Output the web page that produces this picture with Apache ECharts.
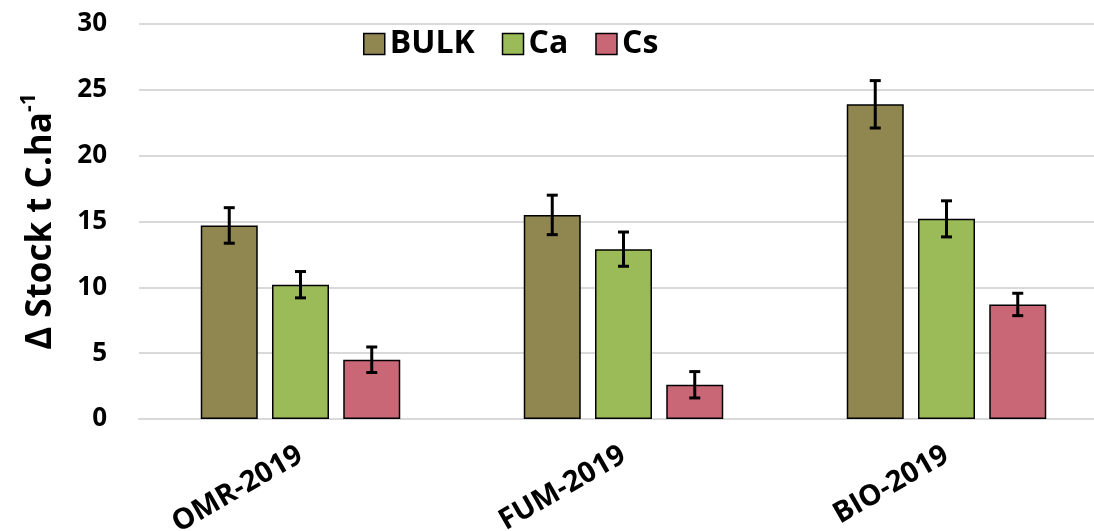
<!DOCTYPE html>
<html>
<head>
<meta charset="utf-8">
<script src="https://cdn.jsdelivr.net/npm/echarts@6/dist/echarts.min.js"></script>
<style>
  html, body { margin: 0; padding: 0; background: #ffffff; }
  #chart { width: 1094px; height: 531px; }
</style>
</head>
<body>
<div id="chart"></div>
<script>
// Treatments on the x axis
const categories = ['OMR-2019', 'FUM-2019', 'BIO-2019'];

// Mean change in carbon stock (t C/ha) per fraction
const bulkValues = [14.7, 15.5, 23.9];
const caValues = [10.2, 12.9, 15.2];
const csValues = [4.5, 2.6, 8.7];

// Standard errors (half-length of the error bars)
const bulkErr = [1.35, 1.5, 1.8];
const caErr = [1.0, 1.3, 1.37];
const csErr = [0.97, 1.0, 0.85];

const yTicks = [0, 5, 10, 15, 20, 25, 30];

const FONT = '"Open Sans", "Noto Sans", sans-serif';
const BAR_WIDTH = 57;
const BAR_GAP = 0.25;      // fraction of bar width between neighbouring bars
const CAP = 11;            // error bar cap width in px

const seriesDefs = [
  { name: 'BULK', values: bulkValues, err: bulkErr, color: '#8f8650' },
  { name: 'Ca', values: caValues, err: caErr, color: '#9bbb59' },
  { name: 'Cs', values: csValues, err: csErr, color: '#c96777' }
];

const nSeries = seriesDefs.length;
const step = BAR_WIDTH * (1 + BAR_GAP);

const barSeries = seriesDefs.map(s => ({
  name: s.name,
  type: 'bar',
  barWidth: BAR_WIDTH,
  barGap: (BAR_GAP * 100) + '%',
  data: s.values,
  itemStyle: { color: s.color, borderColor: '#000000', borderWidth: 1.5 },
  z: 2
}));

const errSeries = seriesDefs.map((s, si) => ({
  name: s.name + ' error',
  type: 'custom',
  z: 5,
  data: s.values.map((v, i) => [i, v + s.err[i], v - s.err[i]]),
  renderItem: function (params, api) {
    const idx = api.value(0);
    const top = api.coord([idx, api.value(1)]);
    const bot = api.coord([idx, api.value(2)]);
    const x = top[0] + (si - (nSeries - 1) / 2) * step;
    const style = { stroke: '#000000', lineWidth: 3 };
    return {
      type: 'group',
      children: [
        { type: 'line', shape: { x1: x, y1: top[1], x2: x, y2: bot[1] }, style: style },
        { type: 'line', shape: { x1: x - CAP / 2, y1: top[1], x2: x + CAP / 2, y2: top[1] }, style: style },
        { type: 'line', shape: { x1: x - CAP / 2, y1: bot[1], x2: x + CAP / 2, y2: bot[1] }, style: style }
      ]
    };
  }
}));

const chart = echarts.init(document.getElementById('chart'), null, { renderer: 'canvas' });

chart.setOption({
  animation: false,
  backgroundColor: '#ffffff',
  legend: {
    data: seriesDefs.map(s => s.name),
    top: 23,
    left: 358,
    itemWidth: 21,
    itemHeight: 21,
    itemGap: 27,
    icon: 'rect',
    textStyle: { fontFamily: FONT, fontWeight: 'bold', fontSize: 32, color: '#000000' },
    itemStyle: { borderColor: '#000000', borderWidth: 1.5 }
  },
  grid: {
    left: 139, width: 969, top: 24, height: 395,
    containLabel: false,
    outerBoundsMode: 'none'
  },
  xAxis: {
    type: 'category',
    data: categories,
    axisLine: { lineStyle: { color: '#d9d9d9', width: 2 } },
    axisTick: { show: false },
    axisLabel: {
      rotate: 30,
      margin: 34,
      fontFamily: FONT,
      fontWeight: 'bold',
      fontSize: 29,
      color: '#000000'
    }
  },
  yAxis: {
    type: 'value',
    min: yTicks[0],
    max: yTicks[yTicks.length - 1],
    interval: yTicks[1] - yTicks[0],
    axisLine: { show: false },
    axisTick: { show: false },
    splitLine: { lineStyle: { color: '#d9d9d9', width: 2 } },
    axisLabel: {
      margin: 32,
      fontFamily: FONT,
      fontWeight: 'bold',
      fontSize: 26,
      color: '#000000'
    },
    name: '{a|Δ Stock t C.ha}{b|-1}',
    nameLocation: 'middle',
    nameRotate: 90,
    nameGap: 76,
    nameTextStyle: {
      rich: {
        a: { fontFamily: FONT, fontWeight: 'bold', fontSize: 35, color: '#000000', lineHeight: 44 },
        b: { fontFamily: FONT, fontWeight: 'bold', fontSize: 21, color: '#000000', lineHeight: 44, verticalAlign: 'top', padding: [0, 0, 18, 0] }
      }
    }
  },
  series: barSeries.concat(errSeries)
});
</script>
</body>
</html>
